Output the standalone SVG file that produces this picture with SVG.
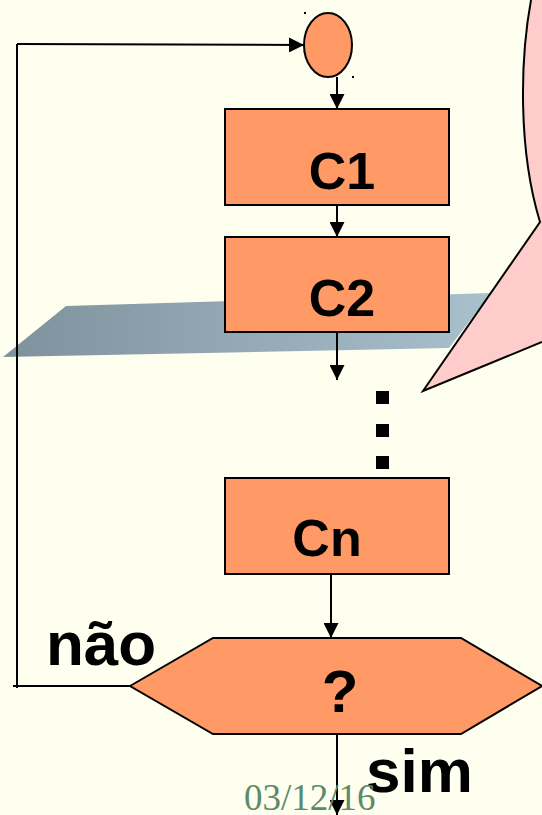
<svg xmlns="http://www.w3.org/2000/svg" width="542" height="815" viewBox="0 0 542 815">
  <defs>
    <linearGradient id="shelf" x1="0" y1="0" x2="1" y2="0">
      <stop offset="0" stop-color="#7e929d"/>
      <stop offset="1" stop-color="#a9c1cd"/>
    </linearGradient>
    <marker id="arrow" viewBox="0 0 15 15" refX="15" refY="7.5" markerWidth="15" markerHeight="15" markerUnits="userSpaceOnUse" orient="auto">
      <path d="M0,0 L15,7.5 L0,15 Z" fill="#000"/>
    </marker>
    <style>
      .box { fill: #ff9966; stroke: #000; stroke-width: 2; }
      .wire { fill: none; stroke: #000; stroke-width: 2; }
      .lbl { font-family: "Liberation Sans", Arial, sans-serif; font-weight: bold; fill: #000; }
      .date { font-family: "Liberation Serif", "Times New Roman", serif; fill: #5b8b6b; }
    </style>
  </defs>

  <rect width="542" height="815" fill="#ffffef"/>

  <!-- background shelf and callout -->
  <polygon points="3,357 66,306 491,293 449,348" fill="url(#shelf)"/>
  <path d="M531,0 C520,60 518,150 540,222 L423,391 L542,342 L542,0 Z" fill="#ffcccc"/>
  <path d="M531,0 C520,60 518,150 540,222 L423,391 L542,342" fill="none" stroke="#000" stroke-width="2"/>

  <!-- connectors -->
  <g id="connectors">
    <path class="wire" d="M13,686 L130,686"/>
    <path class="wire" d="M17,688 L17,44"/>
    <path class="wire" d="M17,44 L304,45" marker-end="url(#arrow)"/>
    <path class="wire" d="M337,77 L337,109" marker-end="url(#arrow)"/>
    <path class="wire" d="M337,205 L337,237" marker-end="url(#arrow)"/>
    <path class="wire" d="M337,332 L337,380" marker-end="url(#arrow)"/>
    <path class="wire" d="M331,574 L331,638" marker-end="url(#arrow)"/>
    <path class="wire" d="M337,734 L337,815" marker-end="url(#arrow)"/>
  </g>

  <g id="start">
    <ellipse class="box" cx="328" cy="45" rx="24" ry="32"/>
    <rect x="304" y="12" width="2" height="2" fill="#000"/>
    <rect x="352" y="76" width="2" height="2" fill="#000"/>
  </g>

  <g id="c1">
    <rect class="box" x="225" y="109" width="224" height="96"/>
    <text class="lbl" x="342" y="189" font-size="52" text-anchor="middle">C1</text>
  </g>

  <g id="c2">
    <rect class="box" x="225" y="237" width="224" height="95"/>
    <text class="lbl" x="342" y="316" font-size="52" text-anchor="middle">C2</text>
  </g>

  <g id="ellipsis">
    <rect x="376" y="391" width="13" height="13" fill="#000"/>
    <rect x="376" y="424" width="13" height="13" fill="#000"/>
    <rect x="376" y="456" width="13" height="13" fill="#000"/>
  </g>

  <g id="cn">
    <rect class="box" x="225" y="478" width="224" height="96"/>
    <text class="lbl" x="327" y="556" font-size="52" text-anchor="middle">Cn</text>
  </g>

  <g id="decision">
    <polygon class="box" points="130,686 213,638 461,638 542,686 461,734 213,734"/>
    <text class="lbl" x="340" y="712" font-size="60" text-anchor="middle">?</text>
  </g>

  <text class="lbl" x="46" y="665" font-size="62">não</text>
  <text class="lbl" x="366" y="792" font-size="62">sim</text>
  <text class="date" x="244" y="810" font-size="37">03/12/16</text>
</svg>
